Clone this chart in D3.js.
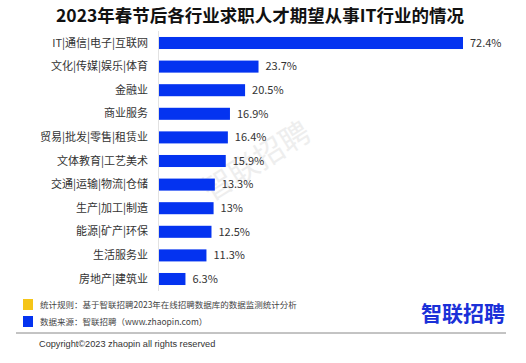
<!DOCTYPE html>
<html><head><meta charset="utf-8">
<script src="https://cdn.jsdelivr.net/npm/d3@7"></script>
<style>body{margin:0;background:#fff}svg{display:block}</style>
</head><body>
<script>
const categories = ["IT|通信|电子|互联网","文化|传媒|娱乐|体育","金融业","商业服务","贸易|批发|零售|租赁业","文体教育|工艺美术","交通|运输|物流|仓储","生产|加工|制造","能源|矿产|环保","生活服务业","房地产|建筑业"];
const values = [72.4,23.7,20.5,16.9,16.4,15.9,13.3,13,12.5,11.3,6.3];
const valueLabels = ["72.4%","23.7%","20.5%","16.9%","16.4%","15.9%","13.3%","13%","12.5%","11.3%","6.3%"];
const title = "2023年春节后各行业求职人才期望从事IT行业的情况";
const notes = ["统计规则：基于智联招聘2023年在线招聘数据库的数据监测统计分析","数据来源：智联招聘（www.zhaopin.com）"];
const noteColors = ["#f5c518","#0433f0"];

const W=526,H=363;
const font='"Noto Sans CJK SC","Noto Sans",sans-serif';
const svg=d3.select("body").append("svg").attr("width",W).attr("height",H);

svg.append("text").attr("x",260).attr("y",22).attr("text-anchor","middle")
  .attr("font-family",font).attr("font-weight","bold").attr("font-size",17.5).attr("fill","#111").text(title);

// watermark
svg.append("text").attr("transform","translate(262,170) rotate(-32)").attr("text-anchor","middle")
  .attr("font-family",font).attr("font-size",30).attr("fill","#eeeeee").text("智联招聘");

const x=d3.scaleLinear().domain([0,72.4]).range([159,463]);
const y=d3.scaleBand().domain(categories).range([31.2,290.8]).paddingInner(0.49).paddingOuter(0.245);

svg.append("line").attr("x1",158.5).attr("x2",158.5).attr("y1",31).attr("y2",291).attr("stroke","#e2e2e2");

const g=svg.append("g");
g.selectAll("rect").data(values).join("rect")
  .attr("x",x(0)).attr("y",(d,i)=>y(categories[i])).attr("width",d=>x(d)-x(0)).attr("height",y.bandwidth())
  .attr("fill","#0433f0");
g.selectAll("text.v").data(values).join("text").attr("class","v")
  .attr("x",d=>x(d)+7).attr("y",(d,i)=>y(categories[i])+y.bandwidth()/2).attr("dy","0.35em")
  .attr("font-family",font).attr("font-size",11).attr("fill","#333").text((d,i)=>valueLabels[i]);

const yAxis=d3.axisLeft(y).tickSize(0).tickPadding(10);
const ax=svg.append("g").attr("transform","translate(158,0)").call(yAxis);
ax.select(".domain").remove();
ax.selectAll("text").attr("font-family",font).attr("font-size",11).attr("fill","#333");

// notes
notes.forEach((t,i)=>{
  svg.append("rect").attr("x",23).attr("y",299+i*17).attr("width",10).attr("height",11).attr("fill",noteColors[i]);
  svg.append("text").attr("x",40).attr("y",308+i*17).attr("font-family",font).attr("font-size",8.5).attr("fill","#444").text(t);
});
svg.append("text").attr("x",421).attr("y",321).attr("font-family",font).attr("font-weight","bold").attr("font-size",21).attr("fill","#1a30d8").text("智联招聘");
svg.append("line").attr("x1",16).attr("x2",506).attr("y1",333).attr("y2",333).attr("stroke","#888").attr("stroke-width",1);
svg.append("text").attr("x",39).attr("y",347).attr("font-family",'"Liberation Sans",Arial,sans-serif').attr("font-size",9.2).attr("fill","#333").text("Copyright©2023 zhaopin all rights reserved");
</script>
</body></html>
